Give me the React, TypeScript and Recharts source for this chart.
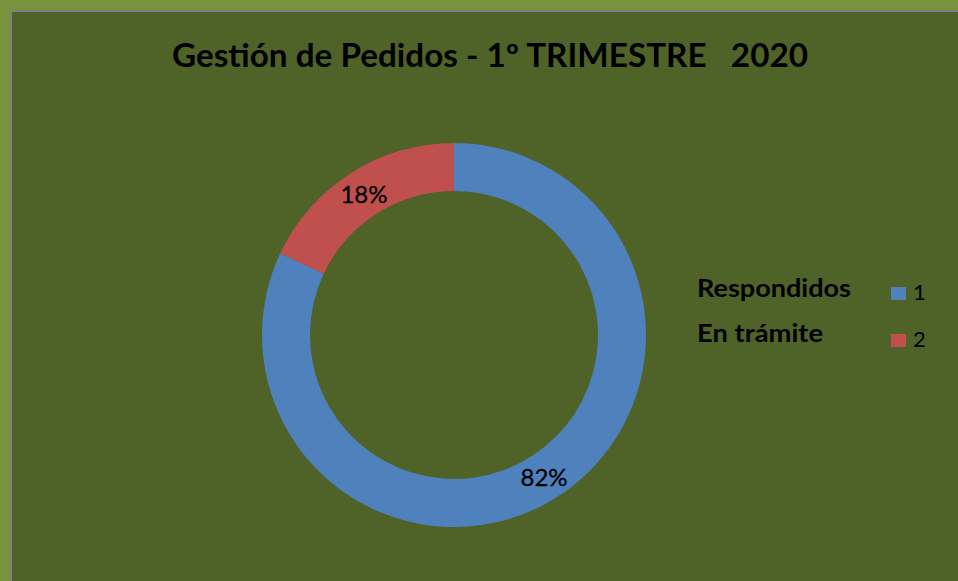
import React from 'react';
import { PieChart, Pie, Cell, Legend, Customized } from 'recharts';

const categories = ['Respondidos', 'En trámite'];
const seriesKeys = ['1', '2'];
const values = [82, 18];
const colors = ['#4f81bd', '#c0504d'];
const title = 'Gestión de Pedidos - 1º TRIMESTRE   2020';

const data = categories.map((name, i) => ({ name, key: seriesKeys[i], value: values[i] }));

const FONT = 'Lato, "Open Sans", sans-serif';
const RADIAN = Math.PI / 180;

const renderLabel = (props: any) => {
  const { cx, cy, midAngle, innerRadius, outerRadius, percent } = props;
  const r = (innerRadius + outerRadius) / 2;
  const x = cx + r * Math.cos(-midAngle * RADIAN);
  const y = cy + r * Math.sin(-midAngle * RADIAN);
  return (
    <text x={x} y={y} textAnchor="middle" dominantBaseline="central" fill="#000" fontFamily={FONT} fontSize={24}
      stroke="#000" strokeWidth={0.3}>
      {`${Math.round(percent * 100)}%`}
    </text>
  );
};

const Title = () => (
  <text x={490} y={67} textAnchor="middle" fontFamily={FONT} fontWeight={700} fontSize={32} fill="#000"
    textLength={636} lengthAdjust="spacingAndGlyphs" style={{ whiteSpace: 'pre' }}>
    {title}
  </text>
);

const labelWidths = [154, 126];

const LegendContent = () => (
  <svg width={260} height={100} style={{ overflow: 'visible' }}>
    {data.map((d, i) => (
      <g key={d.key}>
        <text x={17} y={37 + i * 45} fontFamily={FONT} fontWeight={700} fontSize={24} fill="#000"
          textLength={labelWidths[i]} lengthAdjust="spacingAndGlyphs">{d.name}</text>
        <rect x={211} y={27 + i * 47} width={15} height={13} fill={colors[i]} />
        <text x={233} y={40 + i * 47} fontFamily={FONT} fontSize={22} fill="#000">{d.key}</text>
      </g>
    ))}
  </svg>
);

export default function App() {
  return (
    <div style={{ position: 'fixed', left: 0, top: 0, width: 958, height: 581, background: '#77933c', overflow: 'hidden' }}>
      <div style={{ position: 'absolute', left: 10, top: 10, width: 948, height: 571, background: '#4f6228', borderTop: '2px solid #808080', borderLeft: '2px solid #808080', boxSizing: 'border-box' }} />
      <div style={{ position: 'absolute', left: 0, top: 0 }}>
        <PieChart width={958} height={581} margin={{ top: 0, right: 0, bottom: 0, left: 0 }}>
          <Customized component={Title} />
          <Pie
            data={data}
            dataKey="value"
            nameKey="name"
            cx={454}
            cy={335}
            innerRadius={144}
            outerRadius={192}
            startAngle={90}
            endAngle={-270}
            stroke="none"
            label={renderLabel}
            labelLine={false}
            isAnimationActive={false}
          >
            {data.map((d, i) => (
              <Cell key={d.key} fill={colors[i]} />
            ))}
          </Pie>
          <Legend content={LegendContent} wrapperStyle={{ position: 'absolute', left: 680, top: 260, width: 260, height: 100 }} />
        </PieChart>
      </div>
    </div>
  );
}
